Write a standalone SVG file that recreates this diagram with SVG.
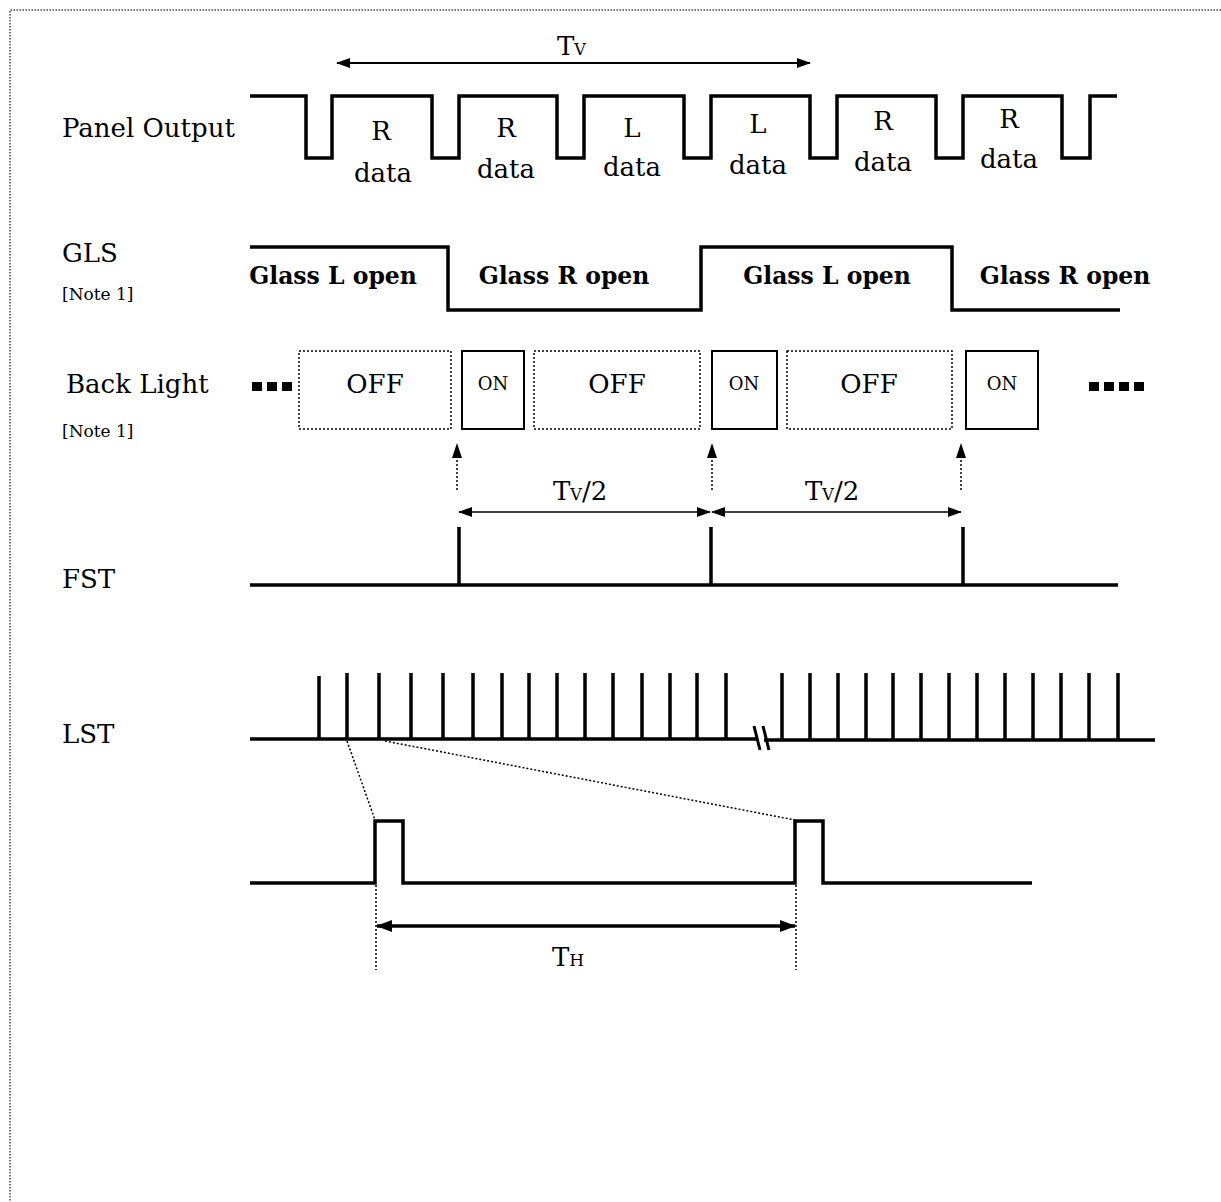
<svg xmlns="http://www.w3.org/2000/svg" width="1221" height="1202" viewBox="0 0 1221 1202">
<style>
.t{font-family:"DejaVu Serif","Liberation Serif",serif;font-size:26px;fill:#000}
.b{font-family:"DejaVu Serif","Liberation Serif",serif;font-size:23.5px;font-weight:bold;fill:#000}
.s{font-family:"DejaVu Serif","Liberation Serif",serif;font-size:17px;fill:#000}
.o{font-family:"DejaVu Serif","Liberation Serif",serif;font-size:18px;fill:#000}
.w{fill:none;stroke:#000;stroke-width:3.5;stroke-linejoin:miter}
.dot{fill:none;stroke:#000;stroke-width:1.5;stroke-dasharray:2 2}
.on{fill:#fff;stroke:#000;stroke-width:2}
.off{fill:#fff;stroke:#000;stroke-width:1.5;stroke-dasharray:2 2}
</style>
<defs>
<marker id="ah" markerUnits="userSpaceOnUse" markerWidth="14" markerHeight="10" refX="13" refY="5" orient="auto-start-reverse">
<path d="M0,0 L14,5 L0,10 Z" fill="#000"/>
</marker>
<marker id="ah2" markerUnits="userSpaceOnUse" markerWidth="16" markerHeight="12" refX="15" refY="6" orient="auto-start-reverse">
<path d="M0,0 L16,6 L0,12 Z" fill="#000"/>
</marker>
</defs>
<rect width="1221" height="1202" fill="#fff"/>
<path d="M1221,10 H10 V1202" fill="none" stroke="#444" stroke-width="1.5" stroke-dasharray="1.5 1.5"/>

<g id="labels">
<text class="t" x="62" y="137">Panel Output</text>
<text class="t" x="62" y="262">GLS</text>
<text class="s" x="62" y="300">[Note 1]</text>
<text class="t" x="66" y="393">Back Light</text>
<text class="s" x="62" y="437">[Note 1]</text>
<text class="t" x="62" y="588">FST</text>
<text class="t" x="62" y="743">LST</text>
</g>

<g id="panel-output">
<path class="w" d="M250,96 H306 V158 H332 V96 H432 V158 H459 V96 H557 V158 H584 V96 H684 V158 H711 V96 H810 V158 H837 V96 H936 V158 H963 V96 H1062 V158 H1090 V96 H1117"/>
<g class="t" text-anchor="middle">
<text x="381" y="140">R</text><text x="383" y="182">data</text>
<text x="506" y="137">R</text><text x="506" y="178">data</text>
<text x="632" y="137">L</text><text x="632" y="176">data</text>
<text x="758" y="133">L</text><text x="758" y="174">data</text>
<text x="883" y="130">R</text><text x="883" y="171">data</text>
<text x="1009" y="128">R</text><text x="1009" y="168">data</text>
</g>
</g>

<g id="gls">
<path class="w" d="M250,247 H448 V310 H701 V247 H952 V310 H1120"/>
<text class="b" x="333" y="284" text-anchor="middle">Glass L open</text>
<text class="b" x="564" y="284" text-anchor="middle">Glass R open</text>
<text class="b" x="827" y="284" text-anchor="middle">Glass L open</text>
<text class="b" x="1065" y="284" text-anchor="middle">Glass R open</text>
</g>

<g id="backlight">
<g fill="#000">
<rect x="252" y="382" width="10" height="9"/><rect x="267" y="382" width="10" height="9"/><rect x="282" y="382" width="10" height="9"/>
<rect x="1089" y="382" width="10" height="9"/><rect x="1104" y="382" width="10" height="9"/><rect x="1119" y="382" width="10" height="9"/><rect x="1134" y="382" width="10" height="9"/>
</g>
<rect class="off" x="299" y="351" width="152" height="78"/>
<text class="t" x="375" y="393" text-anchor="middle">OFF</text>
<rect class="on" x="462" y="351" width="62" height="78"/>
<text class="o" x="493" y="390" text-anchor="middle">ON</text>
<rect class="off" x="534" y="351" width="166" height="78"/>
<text class="t" x="617" y="393" text-anchor="middle">OFF</text>
<rect class="on" x="712" y="351" width="65" height="78"/>
<text class="o" x="744" y="390" text-anchor="middle">ON</text>
<rect class="off" x="787" y="351" width="165" height="78"/>
<text class="t" x="869" y="393" text-anchor="middle">OFF</text>
<rect class="on" x="966" y="351" width="72" height="78"/>
<text class="o" x="1002" y="390" text-anchor="middle">ON</text>
</g>

<g id="fst">
<path class="w" d="M250,585 H1118 M459,585 V527 M711,585 V527 M963,585 V527"/>
</g>

<g id="lst">
<path class="w" d="M250,739 H757 M764,740 H1155"/>
<path class="w" d="M319,739 V676 M347,739 V673 M379,739 V673 M411,739 V673 M443,739 V673 M473,739 V673 M502,739 V673 M529,739 V673 M557,739 V673 M585,739 V673 M613,739 V673 M642,739 V673 M670,739 V673 M697,739 V673 M726,739 V673 M782,740 V673 M810,740 V673 M838,740 V673 M866,740 V673 M893,740 V673 M921,740 V673 M949,740 V673 M977,740 V673 M1005,740 V673 M1033,740 V673 M1061,740 V673 M1089,740 V673 M1118,740 V673"/>
<path fill="none" stroke="#000" stroke-width="3" d="M754,726 L760,750 M763,726 L769,750"/>
</g>

<g id="lst-zoom">
<path class="w" d="M250,883 H375 V821 H403 V883 H795 V821 H823 V883 H1032"/>
</g>

<g id="connectors">
<line x1="337" y1="63" x2="810" y2="63" stroke="#000" stroke-width="2" marker-start="url(#ah)" marker-end="url(#ah)"/>
<text class="t" x="557" y="55">T<tspan font-size="16">V</tspan></text>
<line class="dot" x1="457" y1="490" x2="457" y2="448"/>
<line class="dot" x1="712" y1="490" x2="712" y2="448"/>
<line class="dot" x1="961" y1="490" x2="961" y2="448"/>
<path d="M452,458 L457,443 L462,458 Z M707,458 L712,443 L717,458 Z M956,458 L961,443 L966,458 Z" fill="#000"/>
<line x1="459" y1="512" x2="710" y2="512" stroke="#000" stroke-width="1.5" marker-start="url(#ah)" marker-end="url(#ah)"/>
<line x1="712" y1="512" x2="961" y2="512" stroke="#000" stroke-width="1.5" marker-start="url(#ah)" marker-end="url(#ah)"/>
<text class="t" x="553" y="500">T<tspan font-size="16">V</tspan>/2</text>
<text class="t" x="805" y="500">T<tspan font-size="16">V</tspan>/2</text>
<line class="dot" x1="347" y1="741" x2="375" y2="820"/>
<line class="dot" x1="385" y1="741" x2="795" y2="820"/>
<line class="dot" x1="376" y1="885" x2="376" y2="970"/>
<line class="dot" x1="796" y1="885" x2="796" y2="970"/>
<line x1="377" y1="926" x2="795" y2="926" stroke="#000" stroke-width="3.5" marker-start="url(#ah2)" marker-end="url(#ah2)"/>
<text class="t" x="552" y="966">T<tspan font-size="17">H</tspan></text>
</g>
</svg>
